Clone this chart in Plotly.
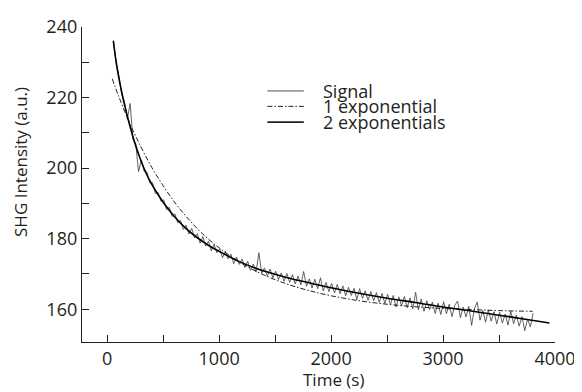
import plotly.graph_objects as go

# measured signal (time in s, SHG intensity in a.u.)
signal_time = [
    55, 80, 105, 130, 155, 180, 205, 230, 255, 280, 305, 330, 355, 380, 405, 430,
    455, 480, 505, 530, 555, 580, 605, 630, 655, 680, 705, 730, 755, 780, 805, 830,
    855, 880, 905, 930, 955, 980, 1005, 1030, 1055, 1080, 1105, 1130, 1155, 1180,
    1205, 1230, 1255, 1280, 1305, 1330, 1355, 1380, 1405, 1430, 1455, 1480, 1505,
    1530, 1555, 1580, 1605, 1630, 1655, 1680, 1705, 1730, 1755, 1780, 1805, 1830,
    1855, 1880, 1905, 1930, 1955, 1980, 2005, 2030, 2055, 2080, 2105, 2130, 2155,
    2180, 2205, 2230, 2255, 2280, 2305, 2330, 2355, 2380, 2405, 2430, 2455, 2480,
    2505, 2530, 2555, 2580, 2605, 2630, 2655, 2680, 2705, 2730, 2755, 2780, 2805,
    2830, 2855, 2880, 2905, 2930, 2955, 2980, 3005, 3030, 3055, 3080, 3105, 3130,
    3155, 3180, 3205, 3230, 3255, 3280, 3305, 3330, 3355, 3380, 3405, 3430, 3455,
    3480, 3505, 3530, 3555, 3580, 3605, 3630, 3655, 3680, 3705, 3730, 3755, 3780,
    3805,
]
signal_value = [
    236.3, 229.8, 226.2, 220.9, 218.6, 213.9, 218.3, 208.2, 206.9, 199.0, 202.3,
    199.1, 198.9, 195.8, 195.9, 192.8, 193.1, 190.6, 191.0, 188.2, 188.9, 186.3,
    187.0, 184.5, 185.2, 182.6, 183.8, 181.3, 182.9, 180.2, 181.4, 178.7, 180.6,
    177.9, 179.3, 176.5, 178.4, 176.0, 177.1, 174.6, 176.4, 174.3, 175.6, 172.9,
    174.8, 172.7, 174.2, 171.8, 173.6, 171.0, 172.8, 170.5, 176.0, 170.2, 171.7,
    169.3, 171.4, 168.9, 170.8, 168.4, 170.3, 167.9, 170.1, 167.6, 169.8, 167.2,
    169.4, 166.9, 170.7, 166.5, 168.6, 166.0, 168.5, 165.8, 168.9, 165.2, 167.6,
    165.0, 167.3, 164.6, 167.0, 164.4, 166.6, 163.8, 166.2, 163.9, 165.9, 162.7,
    165.8, 163.1, 165.2, 162.5, 165.0, 162.4, 164.7, 161.9, 164.5, 161.6, 164.2,
    161.3, 163.9, 160.6, 163.5, 160.9, 163.6, 160.4, 163.2, 160.1, 164.8, 159.8,
    162.9, 159.4, 162.4, 159.9, 162.0, 158.8, 161.7, 158.5, 162.1, 158.7, 161.4,
    157.9, 161.1, 162.3, 157.6, 160.6, 157.8, 160.8, 155.4, 160.1, 162.0, 156.9,
    159.6, 156.3, 159.8, 156.6, 159.3, 155.8, 159.1, 156.1, 158.6, 155.5, 159.4,
    155.9, 158.3, 155.2, 157.9, 153.9, 157.2, 155.0, 158.9,
]

# single exponential fit
fit1_time = [45, 100, 200, 300, 400, 500, 600, 700, 800, 900, 1000, 1200, 1400,
             1600, 1800, 2000, 2250, 2500, 2750, 3000, 3250, 3500, 3800]
fit1_value = [225.3, 220.6, 212.8, 206.1, 200.1, 195.0, 190.4, 186.5, 183.0, 180.0,
              177.4, 173.0, 169.7, 167.2, 165.3, 163.8, 162.4, 161.4, 160.7, 160.2,
              159.9, 159.6, 159.4]

# double exponential fit
fit2_time = [55, 75, 100, 130, 160, 200, 250, 300, 350, 400, 500, 600, 700, 800,
             900, 1000, 1200, 1400, 1600, 1800, 2000, 2250, 2500, 2750, 3000, 3250,
             3500, 3750, 3950]
fit2_value = [236.0, 231.2, 226.3, 221.5, 217.3, 212.3, 206.8, 202.2, 198.4, 195.3,
              190.3, 186.3, 183.0, 180.4, 178.2, 176.4, 173.2, 170.8, 169.0, 167.5,
              166.1, 164.5, 163.1, 161.9, 160.6, 159.5, 158.3, 157.1, 156.1]

legend_names = ["Signal", "1 exponential", "2 exponentials"]

INK = "#231f20"
FONT = "Open Sans"
DASHDOT = "5px,2px,1.5px,2px"

fig = go.Figure()

fig.add_trace(
    go.Scatter(
        x=signal_time,
        y=signal_value,
        mode="lines",
        name=legend_names[0],
        line=dict(color="#3c3c3c", width=0.8),
    )
)

fig.add_trace(
    go.Scatter(
        x=fit1_time,
        y=fit1_value,
        mode="lines",
        name=legend_names[1],
        line=dict(color=INK, width=1, dash=DASHDOT, shape="spline"),
    )
)

fig.add_trace(
    go.Scatter(
        x=fit2_time,
        y=fit2_value,
        mode="lines",
        name=legend_names[2],
        line=dict(color="black", width=1.6, shape="spline"),
    )
)

# hand-made legend (tighter row spacing than plotly's own)
legend_rows = [0.797, 0.748, 0.698]
legend_dash = ["solid", DASHDOT, "solid"]
legend_width = [0.8, 1, 1.6]
for name, yy, dash, w in zip(legend_names, legend_rows, legend_dash, legend_width):
    fig.add_shape(
        type="line", xref="paper", yref="paper",
        x0=0.392, x1=0.469, y0=yy, y1=yy,
        line=dict(color=INK, width=w, dash=dash),
    )
    fig.add_annotation(
        text=name, xref="paper", yref="paper", x=0.506, y=yy,
        xanchor="left", yanchor="middle", showarrow=False,
        font=dict(family=FONT, size=18, color=INK),
    )

fig.add_annotation(
    text="Time (s)", xref="paper", yref="paper", x=0.531, y=-0.119,
    xanchor="center", yanchor="middle", showarrow=False,
    font=dict(family=FONT, size=17, color=INK),
)
fig.add_annotation(
    text="SHG Intensity (a.u.)", xref="paper", yref="paper", x=-0.130, y=0.57,
    xanchor="center", yanchor="middle", textangle=-90, showarrow=False,
    font=dict(family=FONT, size=17, color=INK),
)

# the page body adds an 8 px margin, so the figure is 8 px smaller each way
fig.update_layout(
    width=574,
    height=384,
    margin=dict(l=74, r=20, t=6, b=50),
    plot_bgcolor="white",
    paper_bgcolor="white",
    showlegend=False,
    font=dict(family=FONT, size=18, color=INK),
)

fig.update_xaxes(
    range=[-225, 4000],
    tick0=0,
    dtick=1000,
    ticks="inside",
    ticklen=7,
    tickwidth=1.2,
    tickcolor=INK,
    ticklabeloverflow="allow",
    minor=dict(dtick=500, ticks="inside", ticklen=7, tickwidth=1.2, tickcolor=INK),
    showline=True,
    linecolor=INK,
    linewidth=1.3,
    showgrid=False,
    zeroline=False,
)

fig.update_yaxes(
    range=[150.7, 240],
    tick0=160,
    dtick=20,
    ticks="inside",
    ticklen=7,
    tickwidth=1.2,
    tickcolor=INK,
    ticklabeloverflow="allow",
    minor=dict(dtick=10, ticks="inside", ticklen=7, tickwidth=1.2, tickcolor=INK),
    showline=True,
    linecolor=INK,
    linewidth=1.3,
    showgrid=False,
    zeroline=False,
)

fig.write_html("out.html")
